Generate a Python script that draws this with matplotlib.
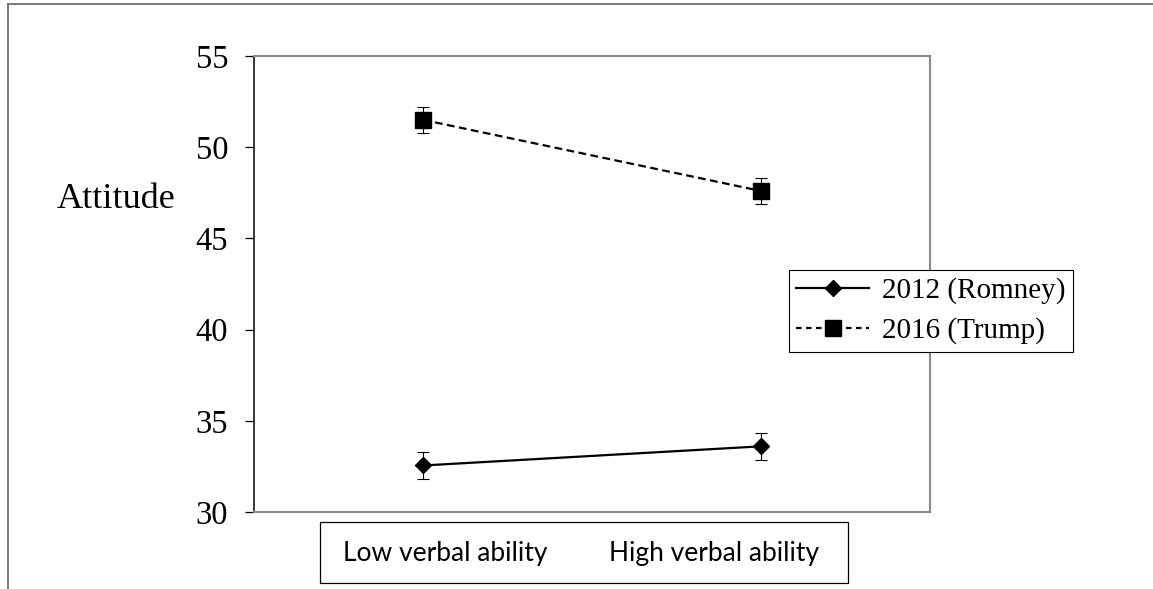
import matplotlib.pyplot as plt
from matplotlib.lines import Line2D
from matplotlib.patches import Rectangle

categories = ["Low verbal ability", "High verbal ability"]
romney = [32.55, 33.6]
romney_err = [0.73, 0.74]
trump = [51.5, 47.6]
trump_err = [0.73, 0.73]
yticks = [30, 35, 40, 45, 50, 55]

serif = ["Liberation Serif", "DejaVu Serif"]
dash = (0, (3.5, 2))

fig = plt.figure(figsize=(11.53, 5.89), dpi=100)
ax = fig.add_axes([254 / 1153, 77 / 589, 676 / 1153, 456 / 589])

xpos = list(range(len(categories)))
ax.errorbar(xpos, romney, yerr=romney_err, color="black", lw=1.6, marker="D",
            ms=8.2, capsize=4.3, elinewidth=0.8, capthick=0.8)
ax.errorbar(xpos, trump, yerr=trump_err, color="black", lw=1.6, marker="s",
            ms=11, capsize=4.3, elinewidth=0.8, capthick=0.8, ls=dash)

ax.set_xlim(-0.5, 1.5)
ax.set_ylim(30, 55)
ax.set_yticks(yticks)
ax.set_xticks([])
ax.tick_params(axis="y", length=6.5, width=0.9, pad=12, labelsize=23.5)
for lab in ax.get_yticklabels():
    lab.set_family(serif)
for side in ["top", "right", "bottom"]:
    ax.spines[side].set_color("#8a8a8a")
    ax.spines[side].set_linewidth(1.5)
ax.spines["left"].set_color("black")
ax.spines["left"].set_linewidth(1.1)

fig.text(57 / 1153, 1 - 200 / 589, "Attitude", family=serif, fontsize=26,
         va="center", ha="left")

handles = [
    Line2D([], [], color="black", lw=1.6, marker="D", ms=8.2),
    Line2D([], [], color="black", lw=1.6, marker="s", ms=11, ls=(0, (2.5, 2))),
]
leg = ax.legend(handles, ["2012 (Romney)", "2016 (Trump)"], loc="upper left",
                bbox_to_anchor=(789 / 1153, 1 - 270 / 589),
                bbox_transform=fig.transFigure, borderaxespad=0,
                prop={"family": serif, "size": 21}, fancybox=False,
                edgecolor="black", framealpha=1, handlelength=2.5,
                handletextpad=0.45, labelspacing=0.45, borderpad=0.25)
leg.get_frame().set_linewidth(0.8)

# category label box below the plot
fig.patches.append(Rectangle((320 / 1153, 6 / 589), 528 / 1153, 61 / 589,
                             transform=fig.transFigure, fill=False,
                             edgecolor="black", lw=0.9))
for cx, name in zip([445, 714], categories):
    fig.text(cx / 1153, 1 - 553 / 589, name, family=["Lato", "DejaVu Sans"],
             fontsize=19, ha="center", va="center")

# outer frame (left and top edges)
fig.lines.append(Line2D([8 / 1153, 8 / 1153], [0, 1 - 4 / 589],
                        transform=fig.transFigure, color="#6e6e6e", lw=1.3))
fig.lines.append(Line2D([8 / 1153, 1], [1 - 4 / 589, 1 - 4 / 589],
                        transform=fig.transFigure, color="#6e6e6e", lw=1.3))

fig.savefig("out.png", dpi=100)
